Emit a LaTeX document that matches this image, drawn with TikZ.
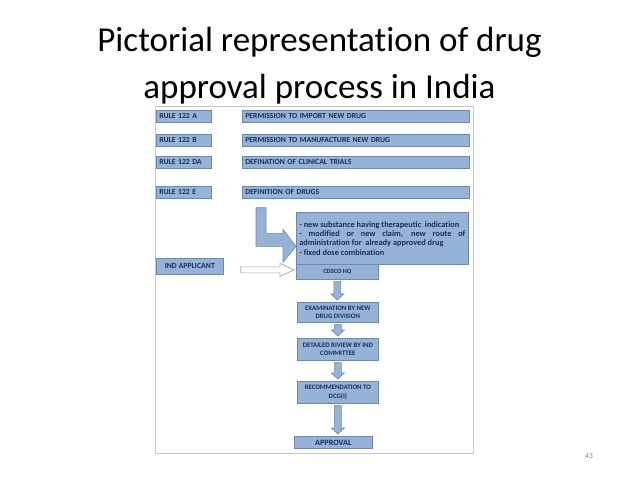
\documentclass[tikz,border=0pt]{standalone}
\usepackage{fontspec}
\setmainfont{Carlito}[Ligatures=NoCommon]
\usepackage{xcolor}
\usepackage{tikz}
\usetikzlibrary{calc}

\definecolor{boxblue}{RGB}{149,179,215}
\definecolor{boxline}{RGB}{110,135,170}
\definecolor{boxtext}{RGB}{25,45,90}
\definecolor{framegray}{RGB}{200,200,200}

\begin{document}
\begin{tikzpicture}[x=1pt,y=-1pt,
  rulebox/.style={anchor=north west, fill=boxblue, draw=boxline, line width=0.7pt,
    text=boxtext, font=\fontsize{7.7}{8}\selectfont\bfseries, inner xsep=3pt,
    inner ysep=0pt, minimum height=11.5pt, align=left},
  flowbox/.style={anchor=north west, fill=boxblue, draw=boxline, line width=0.7pt,
    text=boxtext, font=\fontsize{6.8}{8.5}\selectfont\bfseries, inner sep=1pt,
    align=center},
  blockarrow/.style={fill=boxblue, draw=boxline, line width=0.6pt},
  whitearrow/.style={fill=white, draw=gray!70, line width=0.7pt}]
\useasboundingbox (0,0) rectangle (638,479);

% title
\node[anchor=base, font=\fontsize{35}{40}\selectfont] (title1) at (319.5,52) {Pictorial representation of drug};
\node[anchor=base, font=\fontsize{35}{40}\selectfont] (title2) at (319.5,98) {approval process in India};

% frame of the picture
\draw[framegray, line width=0.8pt] (155,106) rectangle (473,453);

% rules
\node[rulebox, text width=49pt] (r1) at (156,110) {RULE 122 A};
\node[rulebox, text width=221pt] (d1) at (242,110) {PERMISSION TO IMPORT NEW DRUG};
\node[rulebox, text width=49pt] (r2) at (156,134) {RULE 122 B};
\node[rulebox, text width=221pt] (d2) at (242,134) {PERMISSION TO MANUFACTURE NEW DRUG};
\node[rulebox, text width=49pt] (r3) at (156,156) {RULE 122 DA};
\node[rulebox, text width=221pt] (d3) at (242,156) {DEFINATION OF CLINICAL TRIALS};
\node[rulebox, text width=49pt] (r4) at (156,186) {RULE 122 E};
\node[rulebox, text width=221pt] (d4) at (242,186) {DEFINITION OF DRUGS};

% definition of drugs
\node[flowbox, font=\fontsize{8.3}{9.3}\selectfont\bfseries, text width=166pt, align=justify,
  inner xsep=3pt, inner ysep=2pt, minimum height=52pt] (defs) at (296,212)
  {- new substance having therapeutic~~indication\\
   - modified or new claim, new route of \mbox{administration} for~~already approved drug\\
   - fixed dose combination\par};
\node[flowbox, minimum width=82pt, minimum height=15pt, font=\fontsize{6.4}{7}\selectfont\bfseries] (cdsco) at (296,264) {CDSCO HQ};
\node[flowbox, minimum width=67pt, minimum height=16pt, font=\fontsize{7.8}{8}\selectfont\bfseries] (ind) at (156,258) {IND APPLICANT};

% steps
\node[flowbox, minimum width=81pt, minimum height=20pt] (exam) at (297,302) {EXAMINATION BY NEW\\DRUG DIVISION};
\node[flowbox, minimum width=81pt, minimum height=22pt] (review) at (297,338) {DETAILED RIVIEW BY IND\\COMMITTEE};
\node[flowbox, minimum width=81pt, minimum height=22pt] (recom) at (297,381) {RECOMMENDATION TO\\DCG(I)};
\node[flowbox, minimum width=78pt, minimum height=12pt, font=\fontsize{8.2}{9}\selectfont\bfseries] (approval) at (294,436) {APPROVAL};

% L shaped arrow
\path[blockarrow] let \p1=(d4.south west), \p2=(defs.west) in
  (\x1+14,\y1-9.5) -- (\x1+24,\y1-9.5) -- (\x1+24,\y2+5) -- (\x2-13,\y2+5)
  -- (\x2-13,\y2+9) -- (\x2,\y2-8) -- (\x2-13,\y2-24) -- (\x2-13,\y2-8)
  -- (\x1+14,\y2-8) -- cycle;

% applicant arrow
\path[whitearrow] let \p1=(ind.east), \p2=(cdsco.west) in
  (\x1+17,\y1-0.5) -- (\x2-16,\y1-0.5) -- (\x2-16,\y1+3) -- (\x2-2,\y1-3.5)
  -- (\x2-16,\y1-10) -- (\x2-16,\y1-6.5) -- (\x1+17,\y1-6.5) -- cycle;

% down arrows
\foreach \a/\b in {cdsco/exam, exam/review, review/recom, recom/approval}
  \path[blockarrow] let \p1=(\a.south), \p2=(\b.north) in
    (\x1-3.5,\y1-2) -- (\x1+3.5,\y1-2) -- (\x1+3.5,\y2+8) -- (\x1+6.5,\y2+8)
    -- (\x1,\y2+2) -- (\x1-6.5,\y2+8) -- (\x1-3.5,\y2+8) -- cycle;

% page number
\node[text=gray, font=\fontsize{7.5}{9}\selectfont] (page) at (589,456) {43};
\end{tikzpicture}
\end{document}
